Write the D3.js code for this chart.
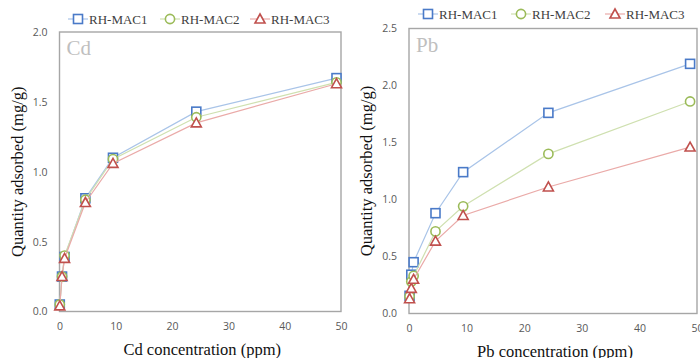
<!DOCTYPE html>
<html>
<head>
<meta charset="utf-8">
<script src="https://cdn.jsdelivr.net/npm/d3@7"></script>
<style>
  body { margin: 0; background: #fff; }
  svg { display: block; }
  .serif { font-family: "Liberation Serif", "Times New Roman", Tinos, "DejaVu Serif", serif; }
</style>
</head>
<body>
<div id="root"></div>
<script>
// DATA
const seriesNames = ['RH-MAC1', 'RH-MAC2', 'RH-MAC3'];

const cdConc = [0.05, 0.45, 0.9, 4.6, 9.5, 24.3, 49.2];
const cdMac1 = [0.05, 0.25, 0.39, 0.81, 1.10, 1.43, 1.67];
const cdMac2 = [0.05, 0.25, 0.40, 0.80, 1.09, 1.39, 1.64];
const cdMac3 = [0.04, 0.25, 0.38, 0.78, 1.06, 1.35, 1.63];

const pbConc = [0.1, 0.4, 0.8, 4.6, 9.4, 24.2, 48.8];
const pbMac1 = [0.155, 0.34, 0.45, 0.88, 1.24, 1.76, 2.19];
const pbMac2 = [0.15, 0.28, 0.33, 0.72, 0.94, 1.40, 1.86];
const pbMac3 = [0.13, 0.22, 0.30, 0.635, 0.86, 1.11, 1.46];

const xTicks = [0, 10, 20, 30, 40, 50];
const cdYTicks = [0, 0.5, 1.0, 1.5, 2.0];
const pbYTicks = [0, 0.5, 1.0, 1.5, 2.0, 2.5];

// DIMENSIONS
let width = 700, height = 358;

const markerColors = ['#4a7ac8', '#9bbb59', '#c0504d'];
const lineColors = ['#a9c4e8', '#cfe0b0', '#eaaaa8'];
const shapes = ['square', 'circle', 'triangle'];

let svg = d3.select('#root')
  .append('svg')
  .attr('width', width)
  .attr('height', height);

function drawMarker(g, shape, color) {
  if (shape === 'square') {
    g.append('rect').attr('x', -4.5).attr('y', -4.5).attr('width', 9).attr('height', 9)
      .attr('fill', '#fff').attr('stroke', color).attr('stroke-width', 1.6);
  } else if (shape === 'circle') {
    g.append('circle').attr('r', 4.6)
      .attr('fill', '#fff').attr('stroke', color).attr('stroke-width', 1.6);
  } else {
    g.append('path').attr('d', 'M0,-5 L5,4 L-5,4 Z')
      .attr('fill', '#fff').attr('stroke', color).attr('stroke-width', 1.6);
  }
}

function drawPanel(p) {
  let g = svg.append('g');

  let xScale = d3.scaleLinear().domain([0, 50]).range([p.left, p.right]);
  let yScale = d3.scaleLinear().domain([0, p.yMax]).range([p.bottom, p.top]);

  // plot frame
  g.append('rect')
    .attr('x', p.left).attr('y', p.top)
    .attr('width', p.right - p.left).attr('height', p.bottom - p.top)
    .attr('fill', 'none').attr('stroke', '#a6a6a6').attr('stroke-width', 1.4);

  // axes (labels only)
  let xAxis = g.append('g')
    .attr('transform', `translate(0, ${p.bottom})`)
    .call(d3.axisBottom(xScale).tickValues(xTicks).tickSize(0).tickPadding(11).tickFormat(d3.format('d')));
  let yAxis = g.append('g')
    .attr('transform', `translate(${p.left}, 0)`)
    .call(d3.axisLeft(yScale).tickValues(p.yTicks).tickSize(0).tickPadding(12).tickFormat(d3.format('.1f')));
  [xAxis, yAxis].forEach(a => {
    a.select('.domain').remove();
    a.selectAll('text')
      .attr('font-family', null)
      .style('font-family', '"Open Sans", "DejaVu Sans", sans-serif')
      .style('font-size', '10.5px')
      .style('fill', '#595959');
  });

  // element label
  g.append('text')
    .attr('class', 'serif')
    .attr('x', p.left + 7).attr('y', p.top + 23)
    .style('font-size', '21px')
    .style('fill', '#bfbfbf')
    .text(p.name);

  // series
  let line = d3.line()
    .x(d => xScale(d[0]))
    .y(d => yScale(d[1]));

  p.series.forEach((vals, i) => {
    let pts = vals.map((v, j) => [p.conc[j], v]);
    g.append('path')
      .attr('d', line(pts))
      .attr('fill', 'none')
      .attr('stroke', lineColors[i])
      .attr('stroke-width', 1.2);
    pts.forEach(d => {
      let m = g.append('g').attr('transform', `translate(${xScale(d[0])}, ${yScale(d[1])})`);
      drawMarker(m, shapes[i], markerColors[i]);
    });
  });

  // axis titles
  g.append('text')
    .attr('class', 'serif')
    .attr('x', (p.left + p.right) / 2 + 2).attr('y', p.bottom + 43)
    .attr('text-anchor', 'middle')
    .style('font-size', '16.5px')
    .style('fill', '#111')
    .text(p.xTitle);

  g.append('text')
    .attr('class', 'serif')
    .attr('transform', `translate(${p.left - 37}, ${(p.top + p.bottom) / 2}) rotate(-90)`)
    .attr('text-anchor', 'middle')
    .style('font-size', '16.5px')
    .style('fill', '#111')
    .text('Quantity adsorbed (mg/g)');

  // legend
  let legendItems = g.selectAll('.legend-item')
    .data(seriesNames)
    .enter()
    .append('g')
    .attr('class', 'legend-item')
    .attr('transform', (d, i) => `translate(${p.legendX[i]}, ${p.legendY})`);

  legendItems.append('line')
    .attr('x1', 0).attr('x2', 20)
    .attr('stroke', (d, i) => lineColors[i])
    .attr('stroke-width', 1.2);
  legendItems.each(function (d, i) {
    let m = d3.select(this).append('g').attr('transform', 'translate(10, 0)');
    drawMarker(m, shapes[i], markerColors[i]);
  });
  legendItems.append('text')
    .attr('class', 'serif')
    .attr('x', 21).attr('dy', '0.35em')
    .style('font-size', '13px')
    .style('fill', '#404040')
    .text(d => d);
}

drawPanel({
  name: 'Cd', xTitle: 'Cd concentration (ppm)',
  left: 59.5, right: 341, top: 32, bottom: 311.5,
  yMax: 2.0, yTicks: cdYTicks,
  conc: cdConc, series: [cdMac1, cdMac2, cdMac3],
  legendX: [68, 160, 250], legendY: 19
});

drawPanel({
  name: 'Pb', xTitle: 'Pb concentration (ppm)',
  left: 409, right: 697, top: 28.5, bottom: 313.5,
  yMax: 2.5, yTicks: pbYTicks,
  conc: pbConc, series: [pbMac1, pbMac2, pbMac3],
  legendX: [418, 511, 605], legendY: 14
});
</script>
</body>
</html>
